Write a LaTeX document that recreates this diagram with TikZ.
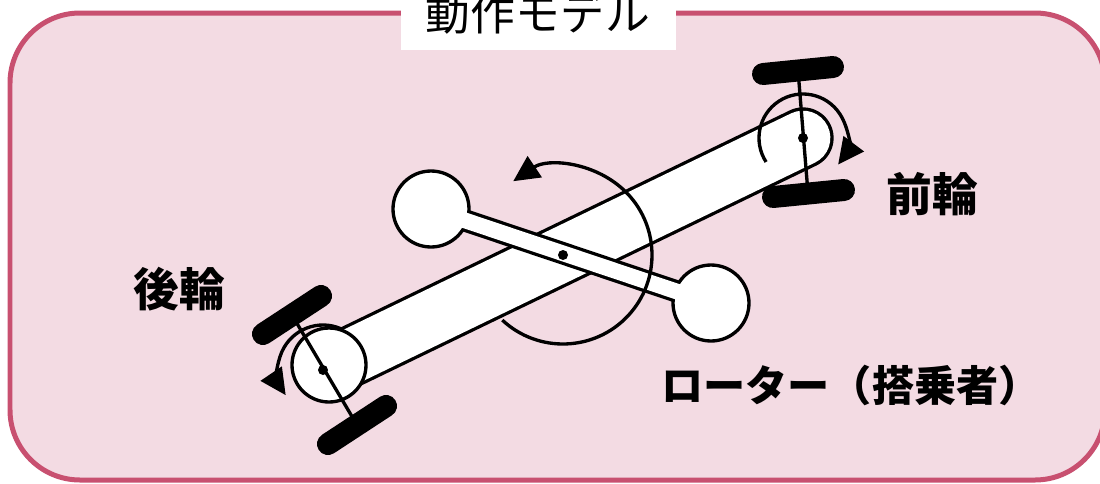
\documentclass[tikz,border=0pt]{standalone}
\usepackage{fontspec}
\setmainfont{Noto Sans CJK JP}
\usetikzlibrary{arrows.meta}

\definecolor{framered}{HTML}{C85070}
\definecolor{framepink}{HTML}{F3DBE3}

\tikzset{
	outline/.style={draw=black,line width=1.9pt},
	tire/.style={line width=0.44cm,line cap=round},
	turn/.style={line width=1.9pt,-{Triangle[length=0.52cm,width=0.5cm]}},
	partname/.style={inner sep=0pt,font=\bfseries\fontsize{26pt}{30pt}\selectfont},
}

\begin{document}
\begin{tikzpicture}[x=0.02cm,y=-0.02cm]
	\useasboundingbox (0,0) rectangle (1100,484);

	% frame and title
	\draw[framered,fill=framepink,line width=0.1cm,rounded corners=1.4cm] (10,13) rectangle (1105,480);
	\fill[white] (401,-5) rectangle (676,50);
	\node (title) at (538,13) [inner sep=0pt,font=\fontsize{25.5pt}{30pt}\selectfont] {動作モデル};

	% centres
	\coordinate (rear) at (323,370);
	\coordinate (front) at (803,138);
	\coordinate (hub) at (563,255);
	\coordinate (seatL) at (431,209);
	\coordinate (seatR) at (711,303);

	% rear wheel turning arrow (goes under the body)
	\draw[turn] (rear) ++(-66:45) arc[start angle=-66,end angle=-214,radius=45];

	% draw body
	\draw[line width=1.226cm,line cap=round] (rear) -- (front);
	\draw[white,line width=1.094cm,line cap=round] (rear) -- (front);
	\draw[outline,fill=white] (329,365) circle[radius=37];

	% draw rotor
	\draw[line width=0.446cm] (seatL) -- (seatR);
	\draw[outline,fill=white] (seatL) circle[radius=38];
	\draw[outline,fill=white] (seatR) circle[radius=38];
	\draw[white,line width=0.314cm] (seatL) -- (seatR);

	% rotor turning arrow
	\draw[turn] (hub) ++(133:89) arc[start angle=133,end angle=-124,radius=89];

	% front wheel turning arrow
	\draw[turn] (front) ++(-213:44) arc[start angle=-213,end angle=37,radius=44];

	% axles and tyres
	\draw[line width=1.9pt] (798,70) -- (808,193);
	\draw[tire] (763,74) -- (833,67);
	\draw[tire] (773,197) -- (844,190);
	\draw[line width=1.9pt] (292,315) -- (357,425);
	\draw[tire] (263,334) -- (321,296);
	\draw[tire] (328,444) -- (386,406);

	% pivots
	\foreach \p in {rear,front,hub}
		\fill (\p) circle[radius=5];

	% names
	\node (frontname) at (932,194) [partname] {前輪};
	\node (rearname) at (179,289) [partname] {後輪};
	\node (rotorname) at (851,385) [partname,font=\bfseries\fontsize{24pt}{28pt}\selectfont] {ローター（搭乗者）};
\end{tikzpicture}
\end{document}
